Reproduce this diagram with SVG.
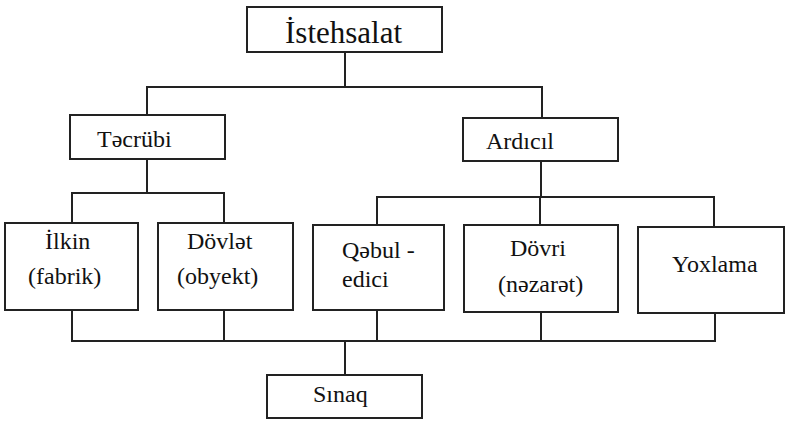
<svg xmlns="http://www.w3.org/2000/svg" width="787" height="422" viewBox="0 0 787 422">
  <style>
    .box { fill: #ffffff; stroke: #222222; stroke-width: 2; }
    .link { fill: none; stroke: #222222; stroke-width: 2; stroke-linecap: square; }
    .label { font-family: "Liberation Serif", "Times New Roman", serif; fill: #111111; font-size: 24px; }
    .title { font-size: 31px; }
  </style>
  <rect width="787" height="422" fill="#ffffff"/>

  <!-- connectors -->
  <g id="connectors" class="link">
    <path d="M345 52 V87 M147 87 H542 M147 87 V115 M542 87 V118"/>
    <path d="M147 159 V193 M72 193 H224 M72 193 V223 M224 193 V223"/>
    <path d="M541 161 V197 M377 197 H714 M377 197 V225 M540 197 V225 M714 197 V227"/>
    <path d="M72 310 V341 M224 310 V341 M377 310 V341 M541 312 V341 M715 313 V341 M72 341 H715"/>
    <path d="M345 341 V375"/>
  </g>

  <!-- nodes -->
  <g id="istehsalat">
    <rect class="box" x="247" y="7" width="195" height="45"/>
    <text class="label title" x="285" y="43">İstehsalat</text>
  </g>
  <g id="tecrubi">
    <rect class="box" x="70" y="115" width="155" height="44"/>
    <text class="label" x="97" y="147">Təcrübi</text>
  </g>
  <g id="ardicil">
    <rect class="box" x="463" y="118" width="155" height="43"/>
    <text class="label" x="486" y="149">Ardıcıl</text>
  </g>
  <g id="ilkin">
    <rect class="box" x="5" y="223" width="133" height="87"/>
    <text class="label" x="45" y="249">İlkin</text>
    <text class="label" x="28" y="284">(fabrik)</text>
  </g>
  <g id="dovlet">
    <rect class="box" x="158" y="223" width="135" height="87"/>
    <text class="label" x="187" y="249">Dövlət</text>
    <text class="label" x="177" y="284">(obyekt)</text>
  </g>
  <g id="qebul">
    <rect class="box" x="313" y="225" width="131" height="85"/>
    <text class="label" x="342" y="258">Qəbul -</text>
    <text class="label" x="342" y="287">edici</text>
  </g>
  <g id="dovri">
    <rect class="box" x="464" y="225" width="154" height="87"/>
    <text class="label" x="510" y="256">Dövri</text>
    <text class="label" x="498" y="292">(nəzarət)</text>
  </g>
  <g id="yoxlama">
    <rect class="box" x="638" y="227" width="146" height="86"/>
    <text class="label" x="672" y="272">Yoxlama</text>
  </g>
  <g id="sinaq">
    <rect class="box" x="267" y="375" width="155" height="43"/>
    <text class="label" x="313" y="402">Sınaq</text>
  </g>
</svg>
